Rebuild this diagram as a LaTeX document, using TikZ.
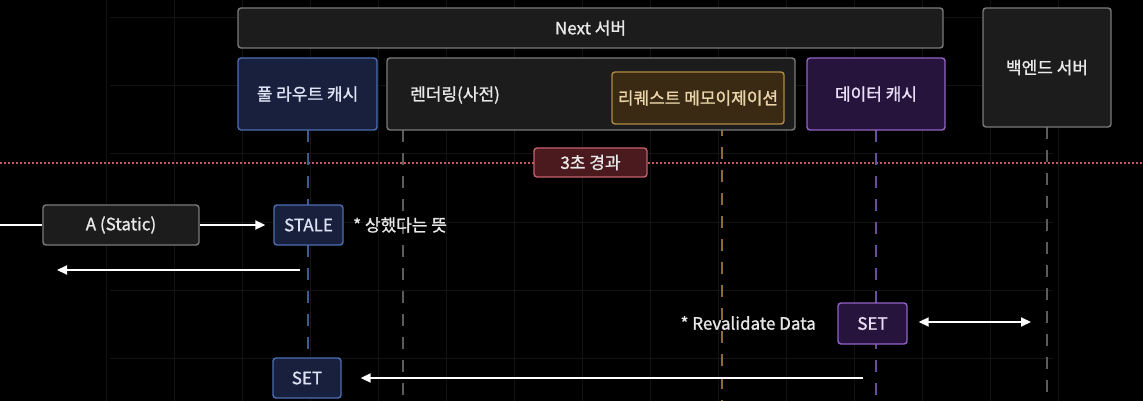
\documentclass[tikz,border=0pt]{standalone}
\usepackage{fontspec}
\setmainfont[FakeBold=1.2]{Noto Sans CJK KR}
\usetikzlibrary{arrows.meta}
\definecolor{bg}{HTML}{000000}
\definecolor{gridc}{HTML}{131313}
\definecolor{boxfill}{HTML}{1C1C1C}
\definecolor{boxline}{HTML}{7A7A7A}
\definecolor{bluefill}{HTML}{18203E}
\definecolor{blueline}{HTML}{4C6EB2}
\definecolor{bluetext}{HTML}{DCE3F3}
\definecolor{orfill}{HTML}{3A2A14}
\definecolor{orline}{HTML}{B08A44}
\definecolor{ortext}{HTML}{EAD5AA}
\definecolor{pufill}{HTML}{26143C}
\definecolor{puline}{HTML}{9462C6}
\definecolor{putext}{HTML}{ECDDF6}
\definecolor{rdfill}{HTML}{4A1A1E}
\definecolor{rdline}{HTML}{C4606C}
\definecolor{rddot}{HTML}{C05A64}
\definecolor{txt}{HTML}{E8E8E8}
\definecolor{llblue}{HTML}{3E5C90}
\definecolor{llgray}{HTML}{5C5C5C}
\definecolor{llor}{HTML}{8C6C30}
\definecolor{llpu}{HTML}{6C4C9E}
\tikzset{
  base/.style={rounded corners=3pt, line width=1.4pt, inner sep=0pt, align=center,
    font=\fontsize{17}{20}\selectfont},
  graybox/.style={base, draw=boxline, fill=boxfill, text=txt},
  bluebox/.style={base, draw=blueline, fill=bluefill, text=bluetext},
  orbox/.style={base, draw=orline, fill=orfill, text=ortext},
  pubox/.style={base, draw=puline, fill=pufill, text=putext},
  rdbox/.style={base, draw=rdline, fill=rdfill, text=txt},
  lbl/.style={inner sep=0pt, text=txt, font=\fontsize{17}{20}\selectfont},
  life/.style={line width=1.3pt, dash pattern=on 12pt off 11pt},
  msg/.style={draw=white, line width=2pt, -{Triangle[width=9pt,length=10pt]}},
  msgboth/.style={draw=white, line width=2pt, {Triangle[width=9pt,length=10pt]}-{Triangle[width=9pt,length=10pt]}},
}
\begin{document}
\begin{tikzpicture}[x=1pt,y=-1pt]
\fill[bg] (0,0) rectangle (1143,401);
\useasboundingbox (0,0) rectangle (1143,401);
% faint grid
\foreach \gx in {106,174,...,1058} \draw[gridc, line width=1pt] (\gx,0) -- (\gx,401);
\foreach \gy in {18,86,154,222,290,358} \draw[gridc, line width=1pt] (110,\gy) -- (1053,\gy);
% elapsed dotted line
\draw[rddot, line width=1.6pt, dash pattern=on 1.6pt off 2.4pt] (0,163) -- (1143,163);
% lifelines
\draw[life, llblue] (308,130) -- (308,358);
\draw[life, llgray] (403,130) -- (403,401);
\draw[life, llor] (722,124) -- (722,401);
\draw[life, llpu] (876,130) -- (876,401);
\draw[life, llgray] (1047,127) -- (1047,401);
% header boxes
\node[graybox, minimum width=705pt, minimum height=40pt] (next) at (590.5,28) {Next 서버};
\node[bluebox, minimum width=139pt, minimum height=72pt] (frc) at (307.5,94) {풀 라우트 캐시};
\node[graybox, minimum width=408pt, minimum height=72pt] (render) at (591,94) {};
\node[lbl, anchor=west] (renderlbl) at (410,95) {렌더링(사전)};
\node[orbox, minimum width=172pt, minimum height=52pt] (memo) at (698,98) {리퀘스트 메모이제이션};
\node[pubox, minimum width=138pt, minimum height=72pt] (dcache) at (876,94) {데이터 캐시};
\node[graybox, minimum width=128pt, minimum height=119pt] (backend) at (1047,67.5) {백엔드 서버};
% elapsed label
\node[rdbox, minimum width=113pt, minimum height=29pt] (elapsed) at (590.5,162.5) {3초 경과};
% request
\coordinate (client) at (0,225);
\node[graybox, minimum width=156pt, minimum height=40pt] (A) at (121,225) {A (Static)};
\node[bluebox, minimum width=69pt, minimum height=40pt] (stale) at (308.5,225) {STALE};
\node[lbl, anchor=west] (note1) at (353,225) {* 상했다는 뜻};
\draw[draw=white, line width=2pt] (client) -- (A.west);
\draw[msg, shorten >=8pt] (A.east) -- (stale.west);
\coordinate (retstart) at (300,270);
\coordinate (retend) at (57,270);
\draw[msg] (retstart) -- (retend);
% revalidate
\node[pubox, minimum width=69pt, minimum height=41pt] (set2) at (872.5,323.5) {SET};
\node[lbl, anchor=east] (note2) at (816,323) {* Revalidate Data};
\coordinate (bkpoint) at (1031,322);
\draw[msgboth, shorten <=11pt] (set2.east |- bkpoint) -- (bkpoint);
\node[bluebox, minimum width=68pt, minimum height=40pt] (set1) at (307,378) {SET};
\coordinate (setsrc) at (863,378);
\draw[msg, shorten >=19pt] (setsrc) -- (set1.east);
\end{tikzpicture}
\end{document}
